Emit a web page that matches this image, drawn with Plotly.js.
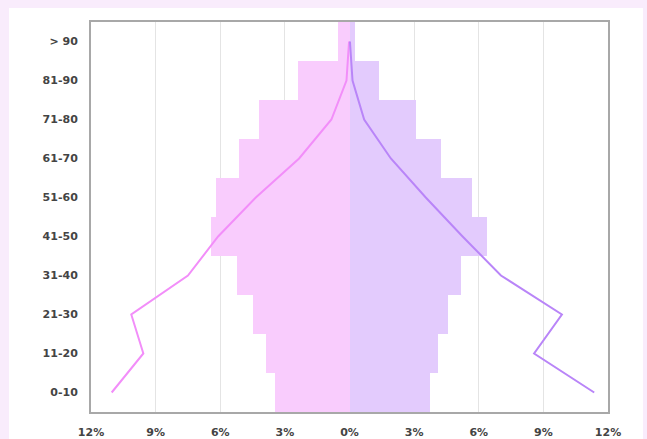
<!DOCTYPE html>
<html>
<head>
<meta charset="utf-8">
<script src="https://cdn.plot.ly/plotly-3.0.1.min.js"></script>
<style>
  html, body { margin: 0; padding: 0; background: #f9ecfc; }
  #wrap { position: relative; width: 647px; height: 439px; overflow: hidden; }
  #panel { position: absolute; left: 9px; top: 8px; width: 634px; height: 440px; background: #ffffff; }
  #chart { position: absolute; left: 0; top: 0; width: 647px; height: 439px; }
</style>
</head>
<body>
<div id="wrap"><div id="panel"></div><div id="chart"></div></div>
<script>
const categories = ['0-10', '11-20', '21-30', '31-40', '41-50', '51-60', '61-70', '71-80', '81-90', '> 90'];
const leftBars  = [3.47, 3.89, 4.48, 5.23, 6.41, 6.18, 5.14, 4.18, 2.37, 0.54];
const rightBars = [3.73, 4.12, 4.55, 5.16, 6.39, 5.67, 4.23, 3.11, 1.35, 0.26];
const leftLine  = [11.04, 9.57, 10.13, 7.50, 6.10, 4.35, 2.34, 0.84, 0.14, 0.02];
const rightLine = [11.36, 8.57, 9.86, 7.03, 5.25, 3.54, 1.92, 0.68, 0.14, 0.02];
const tickValues = [-12, -9, -6, -3, 0, 3, 6, 9, 12];
const tickLabels = ['12%', '9%', '6%', '3%', '0%', '3%', '6%', '9%', '12%'];

const traces = [
  { type: 'bar', orientation: 'h', y: categories, x: leftBars.map(v => -v),
    marker: { color: '#f9ccfd', line: { width: 0 } }, hoverinfo: 'skip' },
  { type: 'bar', orientation: 'h', y: categories, x: rightBars,
    marker: { color: '#e3cbfd', line: { width: 0 } }, hoverinfo: 'skip' },
  { type: 'scatter', mode: 'lines', y: categories, x: leftLine.map(v => -v),
    line: { color: '#f28ef9', width: 2 }, hoverinfo: 'skip' },
  { type: 'scatter', mode: 'lines', y: categories, x: rightLine,
    line: { color: '#b985f8', width: 2 }, hoverinfo: 'skip' }
];

const layout = {
  width: 647, height: 439,
  margin: { l: 91, r: 39, t: 22, b: 27, pad: 0 },
  paper_bgcolor: 'rgba(0,0,0,0)',
  plot_bgcolor: '#ffffff',
  showlegend: false,
  barmode: 'relative',
  bargap: 0,
  font: { family: 'DejaVu Sans', size: 11, color: '#444444' },
  xaxis: {
    range: [-12, 12], tickvals: tickValues, ticktext: tickLabels,
    showgrid: true, gridcolor: '#e4e4e4', gridwidth: 1, zeroline: false,
    showline: true, linecolor: '#a8a8a8', linewidth: 2, mirror: true,
    ticks: 'outside', ticklen: 9, tickcolor: 'rgba(0,0,0,0)',
    tickfont: { family: 'DejaVu Sans', size: 11, color: '#444444', weight: 'bold' },
    fixedrange: true
  },
  yaxis: {
    type: 'category', range: [-0.5, 9.5],
    showgrid: false, zeroline: false,
    showline: true, linecolor: '#a8a8a8', linewidth: 2, mirror: true,
    ticks: 'outside', ticklen: 9, tickcolor: 'rgba(0,0,0,0)',
    tickfont: { family: 'DejaVu Sans', size: 11, color: '#444444', weight: 'bold' },
    fixedrange: true
  }
};

Plotly.newPlot('chart', traces, layout, { displayModeBar: false, staticPlot: true });
</script>
</body>
</html>
